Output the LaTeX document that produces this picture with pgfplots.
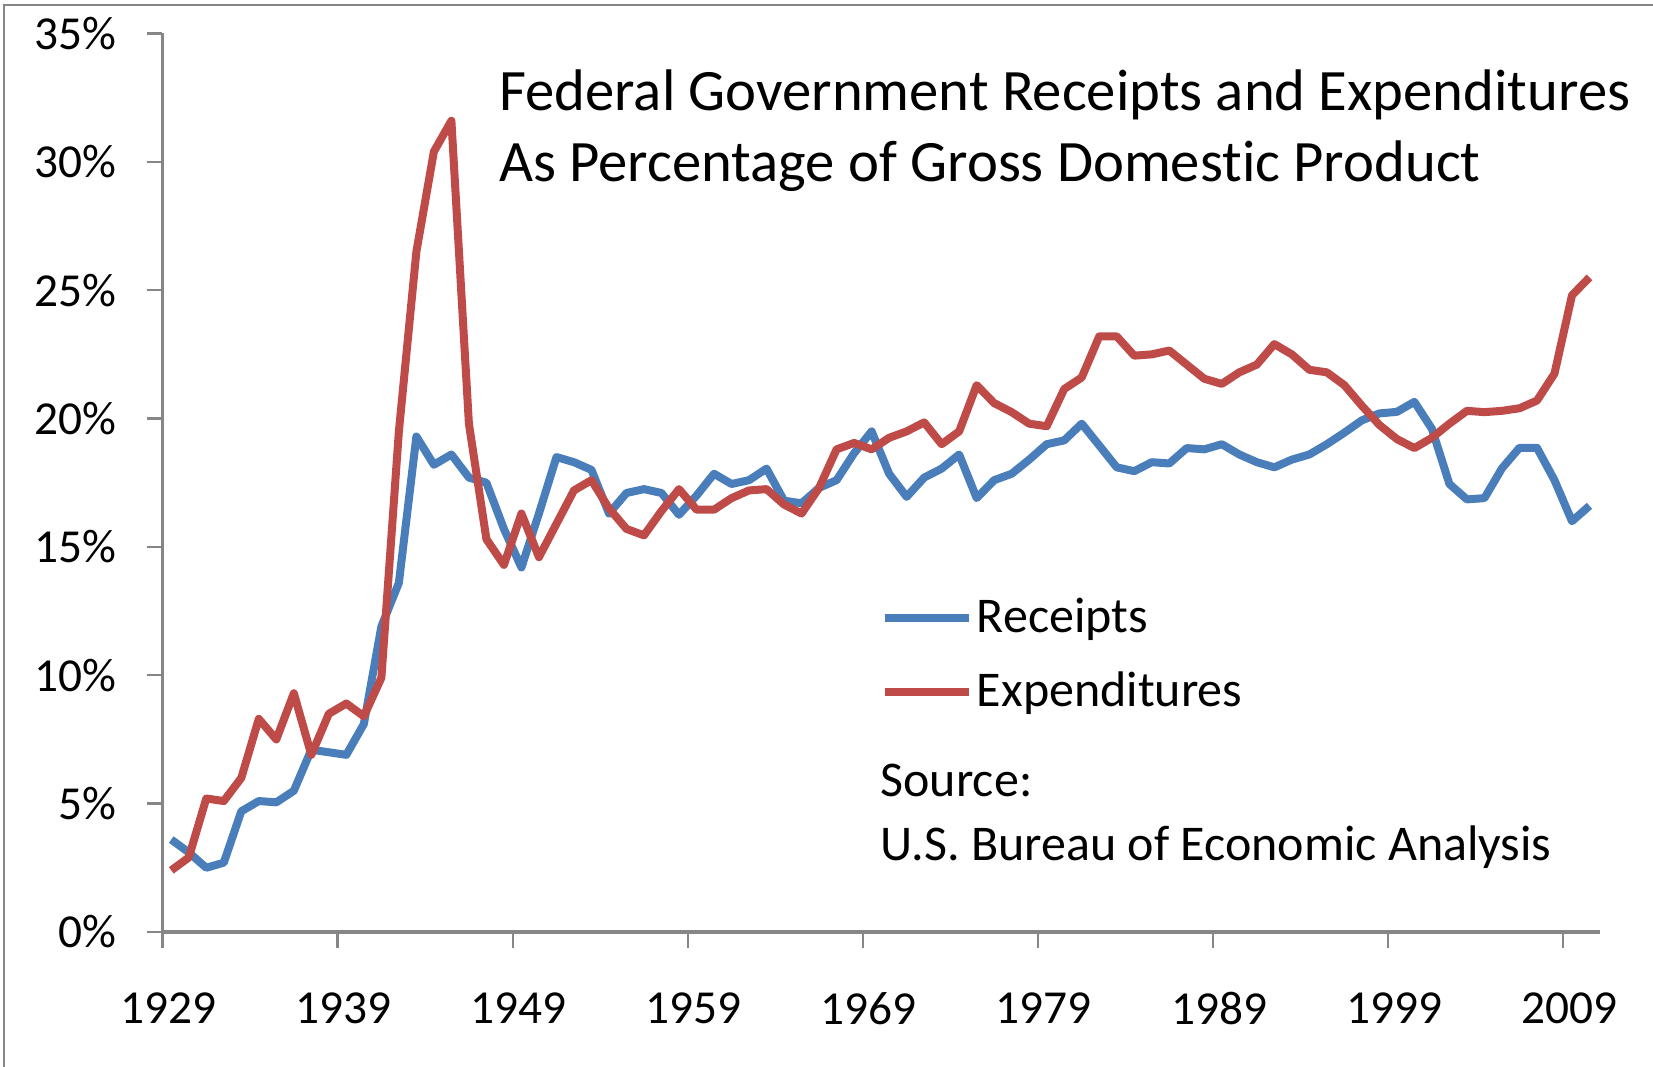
\documentclass[border=0pt]{standalone}
\usepackage{pgfplots}
\pgfplotsset{compat=1.18}
\usepackage{fontspec}
\setmainfont{Carlito}[Ligatures=NoCommon]
\definecolor{rcpt}{RGB}{74,126,187}
\definecolor{expd}{RGB}{190,75,72}
\definecolor{axgray}{RGB}{134,134,134}
\begin{document}
\begin{tikzpicture}
\useasboundingbox (0,0) rectangle (495.9pt,320.1pt);
\draw[axgray, line width=0.75pt] (1.2pt,0) -- (1.2pt,318.6pt) -- (495.9pt,318.6pt);
\begin{axis}[
 at={(48.75pt,40.5pt)}, anchor=south west,
 scale only axis, width=431.25pt, height=269.55pt,
 xmin=1928.5, xmax=2010.6, ymin=0, ymax=35,
 axis lines*=left,
 axis line style={axgray, line width=1pt},
 tick align=outside,
 major tick length=4.8pt,
 tick style={axgray, line width=0.7pt},
 xtick={1928.5,1938.5,1948.5,1958.5,1968.5,1978.5,1988.5,1998.5,2008.5},
 xticklabels={1929,1939,1949,1959,1969,1979,1989,1999,2009},
 ytick={0,5,10,15,20,25,30,35},
 yticklabel={\pgfmathprintnumber{\tick}\%},
 /pgf/number format/assume math mode=true,
 ticklabel style={font=\fontsize{14.2}{17}\selectfont, text=black},
 xticklabel style={xshift=1.8pt, yshift=-9.8pt},
 yticklabel style={xshift=-5.6pt},
 clip=false,
 legend style={at={(0.4991,0.3085)}, anchor=west, draw=none, fill=none,
   inner sep=0pt, font=\fontsize{15}{18}\selectfont, row sep=6.3pt,
   nodes={inner xsep=1.3pt, inner ysep=2pt}},
 legend cell align=left,
 legend image code/.code={\draw[#1] (0pt,0pt) -- (25.2pt,0pt);},
]
\addplot[rcpt, line width=2.4pt, line join=round] coordinates {
(1929,3.6)(1930,3.1)(1931,2.5)(1932,2.7)(1933,4.7)(1934,5.1)(1935,5.05)(1936,5.5)
(1937,7.1)(1938,7.0)(1939,6.9)(1940,8.1)(1941,11.9)(1942,13.6)(1943,19.3)(1944,18.2)
(1945,18.6)(1946,17.7)(1947,17.5)(1948,15.7)(1949,14.2)(1950,16.3)(1951,18.5)(1952,18.3)
(1953,18.0)(1954,16.3)(1955,17.1)(1956,17.25)(1957,17.1)(1958,16.25)(1959,17.0)(1960,17.85)
(1961,17.45)(1962,17.6)(1963,18.05)(1964,16.8)(1965,16.7)(1966,17.3)(1967,17.6)(1968,18.65)
(1969,19.5)(1970,17.85)(1971,16.95)(1972,17.7)(1973,18.05)(1974,18.6)(1975,16.9)(1976,17.6)
(1977,17.85)(1978,18.4)(1979,19.0)(1980,19.15)(1981,19.8)(1982,18.95)(1983,18.1)(1984,17.95)
(1985,18.3)(1986,18.25)(1987,18.85)(1988,18.8)(1989,19.0)(1990,18.6)(1991,18.3)(1992,18.1)
(1993,18.4)(1994,18.6)(1995,19.0)(1996,19.45)(1997,19.93)(1998,20.2)(1999,20.26)(2000,20.65)
(2001,19.6)(2002,17.45)(2003,16.85)(2004,16.9)(2005,18.06)(2006,18.86)(2007,18.86)(2008,17.6)
(2009,16.0)(2010,16.6)};
\addlegendentry{Receipts}
\addplot[expd, line width=2.4pt, line join=round] coordinates {
(1929,2.4)(1930,2.9)(1931,5.2)(1932,5.1)(1933,6.0)(1934,8.3)(1935,7.5)(1936,9.3)
(1937,6.9)(1938,8.5)(1939,8.9)(1940,8.4)(1941,9.9)(1942,19.5)(1943,26.5)(1944,30.4)
(1945,31.6)(1946,19.8)(1947,15.3)(1948,14.3)(1949,16.3)(1950,14.6)(1951,15.9)(1952,17.2)
(1953,17.6)(1954,16.5)(1955,15.7)(1956,15.45)(1957,16.4)(1958,17.25)(1959,16.45)(1960,16.45)
(1961,16.9)(1962,17.2)(1963,17.25)(1964,16.65)(1965,16.3)(1966,17.3)(1967,18.8)(1968,19.05)
(1969,18.8)(1970,19.25)(1971,19.5)(1972,19.85)(1973,19.0)(1974,19.5)(1975,21.3)(1976,20.6)
(1977,20.25)(1978,19.8)(1979,19.7)(1980,21.15)(1981,21.6)(1982,23.2)(1983,23.2)(1984,22.45)
(1985,22.5)(1986,22.65)(1987,22.1)(1988,21.55)(1989,21.35)(1990,21.8)(1991,22.1)(1992,22.9)
(1993,22.5)(1994,21.9)(1995,21.8)(1996,21.3)(1997,20.5)(1998,19.75)(1999,19.2)(2000,18.85)
(2001,19.25)(2002,19.8)(2003,20.3)(2004,20.25)(2005,20.3)(2006,20.4)(2007,20.7)(2008,21.75)
(2009,24.8)(2010,25.5)};
\addlegendentry{Expenditures}
\end{axis}
\node[anchor=base west, font=\fontsize{17.6}{20}\selectfont, inner sep=0pt] at (149.6pt,286.8pt) {Federal Government Receipts and Expenditures};
\node[anchor=base west, font=\fontsize{17.6}{20}\selectfont, inner sep=0pt] at (149.6pt,265.5pt) {As Percentage of Gross Domestic Product};
\node[anchor=base west, font=\fontsize{15}{18}\selectfont, inner sep=0pt] at (264pt,81pt) {Source:};
\node[anchor=base west, font=\fontsize{15}{18}\selectfont, inner sep=0pt] at (264pt,61.8pt) {U.S. Bureau of Economic Analysis};
\end{tikzpicture}
\end{document}
